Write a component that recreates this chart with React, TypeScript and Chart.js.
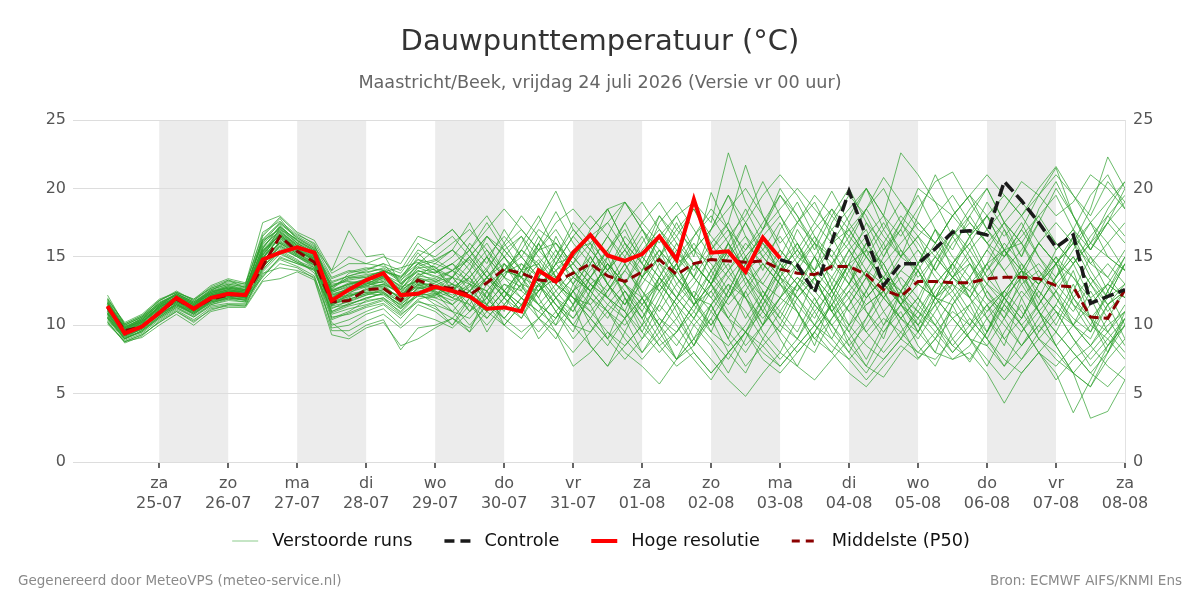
import React, { useEffect, useRef } from 'react';
import { Chart, registerables } from 'chart.js';

Chart.register(...registerables);

const FONT = '"DejaVu Sans", sans-serif';

// forecast hours after 24-07 00:00 (6-hourly steps)
const hours = Array.from({ length: 60 }, (_, i) => 6 + 6 * i);

const dayNames = ['za', 'zo', 'ma', 'di', 'wo', 'do', 'vr', 'za', 'zo', 'ma', 'di', 'wo', 'do', 'vr', 'za'];
const dayDates = ['25-07', '26-07', '27-07', '28-07', '29-07', '30-07', '31-07', '01-08', '02-08', '03-08', '04-08', '05-08', '06-08', '07-08', '08-08'];
const shadedStarts = [24, 72, 120, 168, 216, 264, 312];

const hoogResolutie = [11.4, 9.4, 9.9, 10.9, 12.0, 11.2, 12.0, 12.3, 12.2, 14.8, 15.3, 15.7, 15.3, 11.8, 12.6, 13.3, 13.8, 12.2, 12.3, 12.8, 12.5, 12.1, 11.2, 11.3, 11.0, 14.0, 13.2, 15.3, 16.6, 15.1, 14.7, 15.2, 16.5, 14.8, 19.2, 15.3, 15.4, 13.9, 16.4, 14.9];

const middelste = [11.3, 9.6, 9.9, 10.9, 11.9, 11.2, 11.9, 12.2, 12.2, 14.3, 16.5, 15.4, 14.6, 11.7, 11.8, 12.6, 12.7, 11.8, 13.3, 12.8, 12.7, 12.2, 13.1, 14.1, 13.8, 13.3, 13.2, 13.8, 14.5, 13.6, 13.2, 13.9, 14.8, 13.7, 14.5, 14.8, 14.7, 14.6, 14.7, 14.1, 13.8, 13.7, 14.3, 14.3, 13.7, 12.6, 12.1, 13.2, 13.2, 13.1, 13.1, 13.4, 13.5, 13.5, 13.4, 12.9, 12.8, 10.6, 10.5, 12.6];

const controle = [null, null, null, null, null, null, null, null, null, null, null, null, null, null, null, null, null, null, null, null, null, null, null, null, null, null, null, null, null, null, null, null, null, null, null, null, null, null, null, 14.8, 14.4, 12.4, 16.1, 19.8, 16.4, 12.9, 14.5, 14.5, 15.6, 16.8, 16.9, 16.6, 20.5, 19.1, 17.5, 15.7, 16.6, 11.6, 12.1, 12.6];

const verstoordeRuns: number[][] = [
  [11.2, 9.4, 9.9, 11.0, 11.9, 11.1, 12.1, 12.4, 12.2, 15.2, 16.8, 15.9, 15.0, 11.5, 12.0, 12.7, 13.0, 11.8, 13.5, 13.0, 12.5, 12.0, 13.5, 14.5, 13.0, 12.5, 14.0, 15.0, 16.5, 14.0, 12.5, 11.0, 13.5, 15.5, 14.0, 16.0, 17.5, 15.0, 13.0, 12.0, 14.5, 16.0, 13.0, 11.0, 12.5, 15.0, 17.0, 14.5, 12.0, 10.5, 11.5, 13.0, 15.5, 16.0, 13.5, 12.0, 10.0, 9.0, 11.5, 13.0],
  [10.8, 9.2, 10.1, 11.4, 12.1, 11.5, 12.3, 12.8, 12.5, 14.6, 16.0, 15.2, 14.5, 12.0, 12.8, 13.1, 13.4, 12.6, 14.0, 13.5, 14.0, 13.2, 12.5, 14.0, 15.5, 14.2, 13.0, 12.0, 11.5, 13.0, 15.0, 17.0, 14.5, 12.5, 11.0, 13.5, 16.0, 18.5, 16.0, 14.0, 12.0, 10.5, 13.0, 15.5, 17.0, 14.0, 11.5, 10.0, 12.5, 14.0, 16.5, 18.0, 15.5, 13.0, 11.0, 12.5, 14.5, 12.0, 9.5, 11.0],
  [11.5, 9.8, 10.3, 11.2, 11.6, 10.8, 11.8, 12.0, 11.9, 14.8, 17.2, 16.0, 15.3, 10.5, 11.0, 11.8, 12.0, 10.9, 12.2, 11.8, 11.0, 10.5, 12.0, 13.5, 12.8, 11.5, 10.5, 12.5, 14.0, 15.5, 13.0, 11.5, 10.0, 12.0, 14.5, 13.0, 11.0, 9.5, 12.0, 14.0, 15.5, 13.5, 11.0, 9.0, 10.5, 13.0, 15.0, 16.5, 14.0, 12.5, 10.5, 9.0, 11.5, 14.0, 16.0, 14.5, 12.0, 10.0, 12.5, 14.5],
  [10.5, 9.0, 9.6, 10.5, 11.3, 10.7, 11.5, 11.8, 11.7, 15.5, 16.5, 15.5, 14.8, 12.5, 13.0, 13.4, 13.8, 12.8, 14.5, 14.8, 15.5, 14.0, 16.5, 15.0, 13.5, 15.5, 16.0, 14.5, 17.0, 18.5, 16.0, 14.5, 17.5, 19.0, 17.0, 15.0, 16.5, 18.0, 20.5, 18.0, 16.0, 14.0, 17.5, 19.5, 18.0, 15.5, 17.0, 20.0, 19.0, 16.5, 18.5, 20.0, 17.5, 16.0, 18.0, 19.5, 17.0, 15.5, 18.0, 19.5],
  [11.8, 9.7, 10.4, 11.6, 12.2, 11.6, 12.6, 13.0, 12.8, 16.0, 17.5, 16.5, 15.8, 13.5, 14.0, 13.8, 14.2, 13.5, 14.8, 14.2, 13.5, 12.0, 11.0, 12.5, 14.0, 13.0, 11.5, 10.0, 9.5, 11.0, 12.5, 10.5, 8.5, 9.5, 11.5, 13.0, 10.5, 8.5, 10.0, 12.0, 11.0, 9.0, 10.5, 12.5, 11.0, 9.5, 11.5, 13.0, 12.0, 10.5, 9.0, 8.5, 10.5, 12.5, 11.0, 9.5, 8.0, 6.5, 8.0, 10.0],
  [11.0, 9.6, 10.0, 10.8, 11.5, 11.0, 11.9, 12.2, 12.0, 13.5, 15.0, 14.5, 14.0, 11.0, 11.5, 12.0, 12.3, 11.5, 12.6, 12.2, 12.8, 13.5, 12.0, 13.8, 14.5, 13.5, 15.0, 13.5, 12.5, 14.5, 13.0, 12.0, 14.5, 13.5, 12.0, 14.0, 15.5, 14.0, 15.0, 13.5, 12.5, 14.0, 15.5, 13.5, 12.0, 13.5, 12.0, 11.0, 13.0, 14.5, 13.0, 11.5, 12.5, 14.0, 13.0, 14.5, 13.5, 12.0, 13.0, 12.0],
  [12.2, 10.0, 10.6, 11.8, 12.5, 11.8, 12.8, 13.3, 13.0, 17.5, 18.0, 16.8, 16.2, 14.0, 16.9, 15.0, 15.2, 13.0, 14.5, 13.8, 14.5, 15.5, 13.5, 12.0, 13.5, 14.8, 13.0, 11.5, 13.5, 15.5, 17.0, 14.5, 12.5, 14.0, 16.5, 18.0, 16.0, 14.0, 13.0, 15.0, 17.5, 19.0, 16.5, 14.0, 12.0, 13.5, 15.5, 14.0, 16.0, 18.0, 16.5, 14.0, 15.5, 17.5, 15.0, 13.0, 14.5, 16.0, 15.0, 14.0],
  [10.2, 8.8, 9.3, 10.2, 11.0, 10.2, 11.2, 11.4, 11.4, 14.2, 15.8, 15.0, 14.3, 9.8, 10.0, 10.8, 11.2, 10.0, 11.5, 11.0, 10.0, 11.5, 10.5, 12.0, 11.0, 12.5, 13.5, 12.0, 10.5, 9.0, 10.5, 12.0, 9.5, 7.5, 9.0, 11.5, 9.0, 7.0, 8.5, 10.0, 9.0, 8.0, 10.5, 12.0, 9.5, 8.0, 9.5, 11.0, 10.0, 8.5, 10.0, 11.5, 9.0, 7.5, 9.5, 11.0, 9.0, 7.0, 8.5, 10.5],
  [11.4, 9.5, 10.2, 11.3, 12.0, 11.3, 12.2, 12.6, 12.4, 15.4, 16.6, 15.6, 14.6, 12.2, 12.5, 12.9, 13.2, 12.4, 13.2, 12.8, 12.0, 12.8, 14.2, 15.8, 17.0, 15.5, 14.0, 15.5, 16.0, 14.5, 13.0, 15.5, 17.0, 15.5, 13.5, 12.0, 14.0, 16.0, 14.5, 13.0, 14.5, 13.0, 11.5, 14.0, 16.0, 14.0, 12.5, 14.5, 17.0, 15.0, 13.5, 15.5, 17.5, 16.0, 14.0, 12.5, 11.0, 13.0, 14.5, 13.0],
  [10.9, 9.3, 9.7, 10.9, 11.8, 11.4, 12.0, 12.1, 12.3, 16.5, 17.8, 16.2, 15.5, 12.8, 13.5, 13.5, 14.0, 13.2, 15.0, 16.0, 17.0, 15.5, 14.0, 16.0, 18.0, 16.5, 14.5, 13.0, 14.5, 16.5, 19.0, 17.0, 15.0, 16.5, 18.5, 16.0, 14.0, 15.5, 17.0, 19.5, 18.0, 16.0, 14.5, 16.0, 18.5, 20.0, 17.5, 15.5, 14.0, 16.5, 18.0, 16.0, 15.0, 17.0, 19.5, 21.5, 18.0, 15.5, 17.5, 19.0],
  [11.6, 9.9, 10.5, 11.5, 12.3, 11.7, 12.4, 12.9, 12.6, 15.0, 16.0, 15.3, 14.9, 13.0, 13.2, 13.0, 13.6, 12.0, 13.8, 13.2, 12.5, 11.0, 13.0, 11.5, 10.5, 12.5, 14.5, 16.5, 15.0, 13.0, 11.5, 13.0, 15.0, 13.5, 11.5, 10.0, 12.0, 14.5, 12.5, 11.0, 13.0, 15.0, 13.5, 12.0, 14.0, 12.0, 10.5, 12.0, 14.5, 16.5, 14.5, 12.5, 11.0, 9.5, 11.5, 13.5, 15.0, 13.0, 11.5, 12.5],
  [10.6, 9.1, 9.5, 10.6, 11.4, 10.9, 11.6, 12.0, 11.9, 14.0, 15.5, 14.8, 13.8, 11.2, 11.8, 12.2, 12.5, 11.2, 12.8, 12.4, 11.5, 10.0, 11.5, 13.0, 12.0, 10.5, 12.0, 13.5, 12.5, 11.0, 9.5, 8.0, 10.0, 12.0, 10.5, 9.0, 7.5, 9.5, 11.0, 9.5, 8.0, 9.5, 11.5, 10.0, 8.5, 7.5, 9.0, 10.5, 9.0, 7.5, 8.5, 10.5, 12.0, 10.0, 8.0, 7.0, 8.5, 10.0, 9.0, 7.5],
  [11.9, 10.2, 10.8, 11.9, 12.4, 11.9, 12.9, 13.4, 13.1, 16.2, 17.0, 16.3, 15.6, 12.6, 13.8, 14.1, 14.5, 14.0, 16.0, 14.8, 14.0, 15.0, 16.5, 15.0, 13.5, 16.0, 18.3, 16.0, 14.5, 16.5, 15.0, 13.5, 15.0, 17.0, 18.5, 16.5, 15.0, 17.5, 19.5, 21.0, 19.5, 17.5, 16.0, 18.0, 20.0, 18.0, 16.5, 18.5, 20.5, 21.2, 19.0, 17.0, 18.5, 20.5, 19.5, 18.0, 19.0, 21.0, 20.0, 18.5],
  [10.4, 8.9, 9.4, 10.4, 11.2, 10.6, 11.4, 11.6, 11.6, 13.8, 14.2, 14.0, 13.5, 10.2, 9.2, 10.0, 10.4, 8.2, 9.8, 10.0, 10.5, 12.0, 11.0, 10.0, 11.5, 13.0, 11.5, 10.5, 12.0, 11.0, 9.0, 7.5, 9.0, 10.5, 12.5, 11.0, 9.5, 8.0, 10.0, 12.0, 13.5, 12.0, 10.0, 8.5, 10.0, 12.0, 13.5, 12.0, 10.0, 8.0, 9.5, 11.0, 12.5, 11.0, 9.0, 7.5, 6.5, 8.0, 9.5, 8.0],
  [11.3, 9.6, 10.3, 11.1, 11.9, 11.4, 12.2, 12.5, 12.3, 15.8, 16.9, 15.8, 15.2, 11.8, 12.3, 12.5, 12.8, 12.0, 13.5, 14.5, 15.5, 14.5, 13.0, 14.0, 15.0, 17.0, 16.0, 14.5, 13.0, 12.0, 14.0, 16.0, 18.0, 16.5, 14.5, 13.0, 15.0, 16.5, 15.0, 13.5, 15.0, 17.0, 18.5, 16.0, 14.0, 16.0, 18.0, 16.5, 15.0, 13.5, 15.5, 17.0, 15.5, 14.0, 16.0, 17.5, 16.0, 14.5, 16.0, 17.5],
  [11.1, 9.4, 10.0, 11.0, 11.7, 11.2, 12.0, 12.3, 12.1, 14.4, 16.2, 15.4, 14.7, 12.4, 12.9, 13.3, 13.6, 12.8, 13.2, 12.6, 13.5, 13.0, 12.5, 14.0, 13.5, 12.8, 14.5, 15.0, 13.5, 12.5, 14.0, 12.5, 11.0, 13.0, 14.5, 13.0, 11.5, 13.0, 14.5, 13.0, 12.0, 13.5, 14.5, 13.0, 11.5, 12.5, 14.0, 13.0, 12.0, 13.5, 14.5, 13.0, 12.0, 13.5, 14.5, 13.0, 11.5, 10.5, 12.0, 13.0],
  [10.7, 9.0, 9.8, 10.7, 11.6, 11.0, 11.7, 12.0, 12.0, 14.9, 16.4, 15.1, 14.4, 11.4, 11.7, 12.2, 12.6, 11.6, 12.7, 12.9, 12.0, 13.5, 15.0, 13.5, 12.0, 11.0, 12.5, 14.0, 12.5, 11.0, 10.0, 11.5, 13.5, 12.0, 10.5, 12.5, 14.0, 12.0, 10.0, 11.5, 13.0, 11.5, 10.0, 11.5, 13.5, 12.0, 10.5, 9.0, 11.0, 13.0, 12.0, 10.5, 9.0, 10.5, 12.5, 11.0, 9.0, 7.5, 9.0, 10.5],
  [11.7, 9.8, 10.5, 11.7, 12.2, 11.6, 12.5, 12.7, 12.6, 15.6, 17.3, 16.1, 15.4, 13.2, 13.6, 14.0, 14.5, 13.0, 14.0, 13.6, 13.0, 12.5, 14.0, 12.5, 11.5, 13.5, 15.5, 14.0, 12.5, 14.0, 16.0, 14.5, 13.0, 11.5, 13.0, 15.0, 13.5, 12.0, 13.5, 15.5, 14.0, 12.5, 14.5, 16.5, 15.0, 13.0, 11.5, 13.0, 15.0, 13.5, 12.0, 14.0, 16.0, 14.5, 13.0, 14.5, 16.5, 15.0, 13.5, 12.0],
  [10.3, 8.7, 9.2, 10.3, 11.1, 10.4, 11.3, 11.5, 11.5, 13.6, 14.8, 14.3, 13.6, 10.0, 10.4, 11.0, 11.5, 10.5, 11.8, 11.2, 10.5, 9.5, 11.0, 12.5, 11.0, 9.5, 11.0, 12.5, 11.0, 9.5, 8.5, 10.0, 11.5, 10.0, 8.0, 6.5, 8.0, 9.5, 8.5, 7.0, 8.5, 10.0, 9.0, 7.5, 6.0, 7.5, 9.0, 8.0, 7.5, 9.0, 10.5, 9.0, 7.5, 6.5, 8.0, 9.5, 8.0, 6.5, 5.5, 7.0],
  [12.0, 10.1, 10.7, 11.8, 12.4, 11.8, 12.7, 13.1, 12.9, 16.8, 17.6, 16.6, 16.0, 13.8, 14.5, 14.5, 14.3, 13.8, 15.5, 15.0, 16.0, 17.0, 15.5, 14.0, 15.5, 17.5, 19.8, 17.0, 15.5, 14.0, 15.5, 17.5, 19.0, 17.0, 15.5, 17.0, 18.5, 20.0, 18.0, 16.0, 17.5, 19.5, 18.0, 16.5, 18.5, 20.8, 19.0, 17.0, 16.0, 18.0, 19.5, 18.0, 16.5, 18.0, 20.0, 21.6, 19.5, 17.5, 19.0, 20.5],
  [11.0, 9.5, 9.9, 10.9, 11.8, 11.3, 12.0, 12.2, 12.1, 15.1, 16.7, 15.7, 14.9, 12.0, 12.4, 12.8, 13.0, 12.3, 12.9, 12.5, 12.0, 11.5, 13.5, 12.0, 14.0, 14.5, 12.5, 11.0, 13.5, 15.0, 12.0, 10.5, 13.0, 14.5, 12.0, 11.5, 13.5, 15.0, 16.5, 13.5, 12.0, 10.0, 12.5, 14.5, 12.5, 10.0, 11.5, 14.0, 12.0, 11.5, 13.0, 14.5, 12.0, 10.5, 13.0, 15.0, 12.0, 10.5, 9.5, 11.5],
  [10.6, 9.2, 9.7, 10.8, 11.5, 10.9, 11.8, 12.2, 12.2, 14.5, 15.7, 15.0, 14.2, 10.8, 11.2, 11.5, 11.9, 11.0, 12.4, 11.5, 11.0, 12.5, 11.5, 10.5, 12.0, 11.0, 10.0, 11.5, 13.0, 12.0, 11.0, 9.5, 8.0, 9.5, 11.0, 9.5, 8.5, 10.0, 12.0, 10.5, 9.0, 11.0, 12.5, 11.0, 9.5, 11.0, 12.5, 11.0, 9.5, 8.0, 9.5, 11.5, 10.0, 8.5, 10.0, 11.5, 10.0, 8.5, 10.0, 11.0],
  [11.5, 9.7, 10.4, 11.5, 12.0, 11.5, 12.3, 12.7, 12.5, 15.3, 17.0, 16.0, 15.1, 12.3, 12.6, 13.0, 13.3, 12.5, 13.4, 13.3, 14.0, 14.8, 13.0, 15.5, 16.5, 14.0, 13.5, 15.0, 16.5, 17.5, 15.5, 14.0, 16.5, 18.0, 15.5, 14.5, 12.5, 15.0, 16.5, 18.0, 15.5, 14.0, 12.5, 15.0, 16.5, 18.0, 15.0, 14.0, 12.0, 14.5, 16.5, 18.0, 15.5, 14.0, 13.0, 15.5, 17.0, 14.5, 13.5, 15.5],
  [10.9, 9.3, 10.0, 11.1, 11.8, 11.1, 12.1, 12.4, 12.3, 14.7, 16.1, 15.3, 14.6, 11.7, 12.1, 12.6, 12.9, 11.9, 13.0, 12.6, 13.0, 12.2, 11.5, 13.0, 12.5, 11.5, 13.0, 12.0, 10.5, 9.0, 7.5, 9.0, 10.5, 9.0, 7.5, 6.0, 8.0, 9.5, 8.0, 7.0, 8.5, 10.0, 8.5, 7.5, 9.0, 10.5, 9.5, 8.0, 9.5, 11.0, 10.0, 8.5, 7.0, 8.5, 10.0, 8.5, 6.5, 5.5, 7.5, 9.0],
  [11.2, 9.5, 10.1, 11.2, 12.0, 11.2, 12.1, 12.5, 12.4, 15.7, 16.9, 15.9, 15.1, 12.1, 12.6, 12.9, 13.2, 12.2, 13.1, 12.7, 12.2, 13.0, 15.0, 12.5, 14.0, 16.0, 13.5, 12.5, 15.0, 13.0, 11.5, 14.0, 15.5, 13.0, 11.5, 13.0, 16.0, 14.0, 12.0, 14.5, 16.0, 13.5, 12.0, 14.5, 15.5, 13.0, 12.0, 10.5, 13.0, 14.5, 16.0, 13.5, 12.0, 10.5, 13.0, 14.5, 16.0, 13.5, 12.0, 14.5],
  [11.6, 9.9, 10.4, 11.3, 12.1, 11.5, 12.5, 13.3, 12.7, 16.2, 17.4, 16.4, 15.7, 14.0, 15.0, 14.5, 15.0, 14.5, 16.5, 16.0, 17.0, 15.5, 17.0, 18.5, 17.0, 15.5, 17.5, 18.5, 17.0, 18.5, 19.0, 17.5, 16.0, 18.0, 19.0, 17.5, 22.6, 19.0, 17.0, 18.5, 20.0, 18.5, 17.0, 18.5, 20.0, 18.0, 22.6, 21.0, 19.0, 18.0, 19.5, 21.0, 19.5, 18.0, 19.5, 21.0, 19.5, 18.0, 20.5, 19.0],
  [10.1, 8.8, 9.1, 10.0, 10.8, 10.0, 11.0, 11.3, 11.3, 13.2, 13.4, 13.9, 13.3, 9.3, 9.0, 9.8, 10.2, 8.5, 9.0, 9.8, 10.5, 9.8, 11.5, 10.0, 9.0, 10.5, 9.5, 7.0, 8.0, 9.5, 8.0, 7.0, 5.7, 7.5, 9.0, 7.5, 6.0, 4.8, 6.5, 8.0, 7.0, 6.0, 7.5, 9.0, 7.0, 6.2, 8.0, 9.5, 8.0, 7.5, 8.0, 6.5, 4.3, 6.5, 8.0, 6.0, 7.5, 8.5, 7.0, 6.0],
  [11.3, 9.6, 10.2, 11.4, 12.3, 11.6, 12.3, 12.6, 12.5, 14.3, 15.4, 14.7, 14.2, 12.7, 13.4, 13.6, 13.9, 14.2, 14.6, 14.0, 13.0, 14.5, 16.0, 14.0, 13.5, 11.5, 10.5, 12.5, 13.5, 12.0, 11.0, 9.0, 11.5, 14.0, 12.0, 10.0, 12.0, 13.5, 11.0, 9.5, 12.0, 13.5, 11.0, 9.5, 12.0, 13.5, 11.5, 9.5, 12.0, 13.0, 11.0, 9.5, 12.0, 13.5, 11.0, 9.5, 12.0, 13.5, 11.5, 9.0],
  [10.8, 9.1, 9.8, 10.9, 11.7, 11.0, 11.9, 12.3, 12.0, 15.0, 16.3, 15.5, 14.8, 11.0, 11.6, 11.9, 12.4, 11.4, 12.1, 12.0, 11.5, 12.5, 10.5, 12.0, 14.5, 13.0, 11.0, 9.0, 10.5, 12.5, 14.5, 12.0, 10.0, 8.5, 10.5, 13.0, 14.5, 12.0, 9.5, 8.0, 10.5, 13.5, 12.0, 9.5, 7.5, 10.0, 12.5, 14.0, 11.5, 9.0, 7.3, 9.5, 12.5, 14.0, 11.0, 8.5, 10.0, 12.5, 10.5, 8.5],
  [11.4, 9.7, 10.3, 11.4, 11.9, 11.4, 12.4, 12.8, 12.6, 16.1, 17.1, 16.0, 15.3, 12.6, 13.0, 13.2, 13.7, 13.1, 13.9, 14.1, 15.0, 16.5, 18.0, 16.0, 14.0, 12.5, 14.5, 16.5, 18.0, 16.5, 14.5, 16.5, 14.0, 12.0, 13.5, 15.5, 17.5, 21.7, 18.0, 15.5, 14.0, 16.0, 18.5, 17.0, 15.0, 17.0, 19.0, 17.5, 16.0, 18.0, 19.5, 17.0, 15.0, 16.5, 18.0, 16.0, 14.5, 16.5, 18.0, 16.5],
  [10.5, 9.0, 9.6, 10.6, 11.4, 10.8, 11.7, 12.1, 11.8, 13.9, 15.2, 14.6, 14.1, 10.6, 10.8, 11.3, 11.6, 10.7, 11.9, 12.2, 12.8, 11.5, 10.0, 11.5, 13.0, 11.5, 9.5, 8.0, 9.5, 11.5, 13.0, 11.0, 9.0, 7.5, 8.5, 10.5, 12.5, 11.0, 9.0, 7.5, 9.0, 11.5, 10.0, 8.0, 6.5, 8.5, 10.5, 12.0, 10.5, 8.5, 7.5, 9.5, 11.5, 10.0, 8.0, 6.5, 3.6, 6.0, 8.5, 10.0],
  [11.7, 10.0, 10.6, 11.6, 12.3, 11.7, 12.6, 13.0, 12.8, 15.9, 17.2, 16.2, 15.5, 13.4, 13.9, 14.2, 14.0, 13.4, 15.3, 14.0, 13.5, 15.0, 16.5, 15.5, 14.0, 15.5, 17.0, 15.0, 13.5, 15.5, 17.5, 19.0, 17.0, 15.0, 16.5, 18.5, 17.0, 15.5, 17.5, 19.5, 17.5, 16.0, 15.0, 17.0, 18.5, 16.5, 15.0, 16.5, 18.0, 19.5, 17.5, 16.0, 17.5, 19.0, 17.5, 15.5, 17.0, 19.5, 21.0, 18.5],
  [11.0, 9.4, 9.9, 11.0, 11.7, 11.1, 12.0, 12.2, 12.2, 14.6, 16.1, 15.4, 14.9, 11.9, 12.2, 12.4, 12.7, 12.1, 12.8, 12.3, 11.8, 12.5, 13.5, 12.5, 11.5, 12.5, 13.5, 14.5, 13.0, 11.5, 10.5, 12.0, 13.0, 11.5, 10.0, 11.5, 13.0, 12.0, 10.5, 12.0, 13.5, 12.5, 11.0, 12.5, 14.0, 13.0, 11.5, 10.5, 12.0, 13.5, 12.5, 11.0, 12.5, 14.0, 12.5, 11.0, 10.0, 11.5, 13.0, 12.0],
  [10.2, 8.8, 9.3, 10.2, 11.0, 10.3, 11.1, 11.5, 11.4, 13.3, 14.5, 14.2, 13.4, 9.6, 9.6, 10.3, 10.8, 9.8, 10.8, 10.4, 9.8, 11.0, 12.0, 10.5, 9.5, 10.5, 12.0, 10.0, 8.5, 7.0, 8.5, 10.0, 8.5, 7.0, 8.0, 6.5, 8.0, 9.5, 7.5, 6.5, 8.0, 9.5, 8.0, 6.5, 5.5, 7.0, 8.5, 7.5, 9.0, 10.5, 9.0, 7.5, 6.0, 7.5, 9.0, 8.0, 6.5, 3.2, 3.7, 6.0],
  [11.6, 9.8, 10.4, 11.5, 12.2, 11.5, 12.4, 12.7, 12.5, 15.1, 16.7, 15.8, 15.2, 12.9, 13.3, 13.5, 14.0, 13.5, 14.5, 15.5, 16.5, 15.0, 13.5, 15.0, 16.5, 15.0, 13.5, 14.5, 16.0, 17.5, 19.0, 17.0, 15.5, 14.0, 15.5, 17.0, 19.5, 17.5, 15.5, 14.0, 15.5, 17.5, 19.8, 17.5, 15.5, 14.5, 16.0, 17.5, 16.0, 14.5, 16.0, 18.0, 19.5, 18.0, 16.0, 14.5, 16.0, 18.5, 22.3, 20.0],
  [11.1, 9.5, 10.0, 11.1, 11.8, 11.2, 12.0, 12.4, 12.2, 14.2, 15.6, 15.0, 14.4, 11.3, 11.5, 12.0, 12.3, 11.5, 12.5, 12.0, 12.5, 14.0, 12.0, 10.5, 12.0, 13.5, 12.0, 10.5, 12.5, 14.5, 13.0, 11.5, 13.0, 15.0, 13.5, 12.0, 10.5, 12.5, 14.5, 13.0, 11.5, 10.0, 11.5, 13.0, 15.0, 13.5, 11.5, 10.0, 11.5, 13.5, 15.0, 13.0, 11.5, 10.0, 11.5, 13.5, 15.0, 13.0, 11.0, 12.5],
  [11.9, 10.1, 10.7, 11.8, 12.4, 11.9, 12.7, 13.2, 13.0, 16.6, 17.9, 16.7, 15.9, 12.5, 13.1, 13.3, 13.5, 12.6, 14.2, 13.8, 14.5, 13.5, 15.0, 16.5, 15.0, 13.5, 12.0, 13.5, 15.0, 13.0, 11.5, 13.5, 15.5, 14.0, 16.0, 14.0, 12.0, 14.0, 16.0, 14.5, 13.0, 15.0, 17.0, 15.5, 13.5, 15.5, 17.5, 16.0, 14.0, 16.0, 17.5, 16.0, 14.0, 15.5, 17.5, 16.0, 14.5, 16.0, 17.5, 16.0],
  [10.7, 9.2, 9.7, 10.6, 11.5, 10.9, 11.7, 11.9, 11.9, 14.1, 15.3, 14.6, 14.0, 11.6, 11.9, 12.3, 12.2, 11.3, 12.3, 12.1, 13.5, 15.0, 13.5, 12.5, 11.0, 13.0, 14.0, 12.0, 11.0, 12.5, 14.5, 12.5, 10.5, 9.5, 11.5, 12.5, 10.5, 9.5, 11.5, 13.0, 11.0, 9.0, 8.0, 10.0, 11.5, 12.5, 10.5, 9.5, 11.5, 12.5, 14.5, 12.0, 11.0, 13.0, 14.0, 12.0, 10.5, 9.5, 11.5, 12.5],
  [11.3, 9.7, 10.2, 11.3, 12.0, 11.3, 12.2, 12.5, 12.4, 15.3, 16.6, 15.6, 14.7, 11.6, 12.1, 12.6, 13.0, 12.4, 13.6, 13.4, 12.5, 14.0, 15.5, 13.5, 15.5, 14.5, 12.0, 11.0, 13.0, 14.0, 15.5, 13.5, 12.5, 14.5, 15.5, 13.5, 12.0, 14.5, 15.5, 17.5, 15.0, 14.0, 16.0, 17.0, 15.0, 13.5, 12.5, 14.5, 15.5, 13.5, 12.5, 14.5, 15.5, 13.5, 12.0, 14.5, 16.0, 17.5, 15.0, 14.0],
  [10.9, 9.2, 9.9, 11.1, 11.9, 11.0, 11.9, 12.3, 12.3, 14.8, 16.5, 15.6, 14.9, 12.2, 12.7, 12.8, 13.5, 12.7, 13.7, 13.9, 14.5, 13.0, 12.0, 14.5, 13.5, 12.0, 15.0, 17.5, 16.0, 13.0, 11.0, 14.0, 16.5, 13.5, 12.0, 15.5, 17.0, 13.5, 11.5, 14.0, 17.0, 15.0, 12.5, 14.5, 17.5, 16.0, 13.0, 11.5, 14.5, 17.0, 15.0, 12.0, 10.5, 13.5, 16.0, 14.5, 11.5, 9.5, 12.5, 15.0],
  [11.5, 9.9, 10.2, 11.3, 11.9, 11.4, 12.2, 12.4, 12.2, 14.9, 16.5, 15.5, 15.0, 11.4, 12.3, 13.1, 12.8, 11.9, 13.0, 12.4, 11.0, 9.5, 12.5, 11.0, 14.0, 12.0, 10.0, 13.0, 11.5, 9.0, 12.0, 10.0, 13.5, 11.0, 8.5, 11.5, 9.0, 12.5, 10.0, 13.5, 11.0, 8.5, 12.0, 14.5, 11.0, 9.0, 12.5, 10.0, 8.0, 11.5, 13.5, 10.5, 8.5, 12.0, 9.5, 11.5, 14.0, 10.5, 8.0, 11.0],
  [11.2, 9.6, 10.1, 11.2, 11.9, 11.3, 12.1, 12.5, 12.3, 15.5, 16.8, 15.8, 15.1, 12.4, 12.8, 13.2, 13.1, 12.3, 13.1, 12.9, 13.5, 16.0, 14.5, 17.0, 15.0, 13.5, 16.5, 14.0, 12.0, 15.0, 17.5, 15.0, 18.0, 16.0, 13.5, 17.0, 19.5, 16.5, 14.0, 17.0, 19.0, 16.5, 14.0, 17.5, 20.0, 17.0, 15.0, 18.0, 21.0, 18.5, 16.5, 19.0, 17.0, 15.0, 18.5, 20.5, 18.0, 15.5, 17.5, 20.0],
  [10.6, 9.0, 9.6, 10.7, 11.5, 10.8, 11.6, 12.0, 11.8, 14.4, 15.9, 15.1, 14.5, 10.9, 11.4, 11.7, 12.0, 11.2, 12.2, 12.3, 13.0, 11.0, 12.5, 10.0, 11.5, 9.0, 10.5, 12.5, 10.0, 8.5, 10.5, 8.0, 9.5, 11.5, 9.0, 10.5, 8.0, 6.5, 9.0, 11.0, 9.5, 12.0, 9.5, 8.0, 10.5, 12.5, 10.0, 7.6, 9.0, 11.5, 9.0, 7.0, 9.5, 11.5, 9.0, 10.5, 13.0, 10.5, 8.5, 10.0],
  [11.8, 10.0, 10.6, 11.6, 12.3, 11.7, 12.5, 12.9, 12.7, 15.6, 17.2, 16.2, 15.4, 13.1, 13.6, 13.9, 14.1, 13.3, 14.3, 14.7, 15.5, 17.5, 15.0, 13.5, 16.0, 18.0, 15.5, 13.0, 15.5, 18.5, 16.0, 13.5, 15.0, 17.5, 15.0, 19.7, 17.0, 14.5, 17.0, 20.0, 18.0, 15.5, 18.0, 20.0, 17.5, 15.0, 17.5, 19.5, 17.0, 15.5, 18.0, 20.0, 17.5, 15.0, 17.5, 20.0, 18.0, 16.0, 18.5, 20.5],
  [10.5, 9.0, 9.5, 10.5, 11.3, 10.6, 11.5, 11.9, 11.7, 13.7, 14.9, 14.5, 14.1, 10.4, 10.9, 11.4, 11.8, 10.8, 11.7, 11.4, 10.0, 12.0, 9.5, 11.5, 13.0, 10.5, 9.0, 11.5, 8.5, 7.0, 9.5, 12.0, 10.0, 7.5, 10.0, 8.5, 6.5, 9.0, 11.5, 9.0, 7.0, 9.5, 11.5, 8.5, 7.0, 9.5, 11.0, 8.5, 7.0, 9.5, 11.5, 9.0, 7.0, 9.5, 11.0, 8.5, 6.5, 5.5, 8.0, 10.5],
  [11.4, 9.7, 10.3, 11.4, 12.1, 11.5, 12.3, 12.6, 12.4, 15.2, 16.4, 15.5, 14.8, 12.0, 12.6, 13.0, 13.6, 12.9, 14.2, 14.3, 12.5, 13.5, 11.5, 14.5, 12.5, 16.0, 13.5, 11.5, 14.5, 12.0, 10.5, 13.5, 16.5, 14.5, 11.5, 14.0, 16.0, 13.0, 11.0, 13.5, 16.0, 13.5, 11.0, 13.0, 16.0, 14.5, 12.0, 14.5, 17.0, 14.0, 12.0, 14.5, 17.0, 14.0, 11.5, 13.5, 16.5, 14.0, 12.0, 14.5],
  [10.8, 9.3, 9.8, 10.8, 11.6, 11.0, 11.8, 12.1, 12.0, 14.7, 16.0, 15.2, 14.6, 11.5, 11.9, 12.3, 12.6, 11.8, 12.9, 13.1, 14.0, 12.5, 14.0, 12.0, 10.5, 13.0, 11.0, 9.5, 12.5, 14.5, 12.0, 9.5, 12.0, 14.5, 12.0, 9.5, 12.5, 15.0, 12.0, 10.0, 12.5, 15.0, 12.5, 10.0, 12.5, 14.5, 12.0, 9.5, 12.0, 14.5, 12.0, 9.5, 12.0, 14.5, 12.0, 10.0, 12.5, 15.0, 12.5, 10.0],
  [11.6, 9.8, 10.5, 11.5, 12.2, 11.6, 12.4, 12.8, 12.6, 16.3, 17.5, 16.4, 15.6, 12.8, 13.5, 13.7, 13.9, 13.6, 14.8, 14.5, 14.0, 15.5, 17.5, 15.5, 14.0, 16.5, 15.0, 17.0, 15.5, 14.0, 16.5, 15.0, 13.5, 16.0, 14.5, 13.0, 15.5, 17.5, 15.0, 16.5, 14.5, 16.5, 15.0, 13.0, 15.5, 17.5, 15.5, 13.5, 15.0, 17.0, 15.5, 13.5, 15.0, 17.0, 15.0, 13.5, 15.5, 17.5, 16.0, 14.0],
  [10.9, 9.4, 10.0, 11.0, 11.7, 11.1, 11.9, 12.2, 12.1, 14.5, 15.8, 15.1, 14.4, 11.7, 12.2, 12.4, 12.4, 11.7, 12.7, 12.5, 11.5, 13.0, 11.0, 12.5, 11.0, 13.5, 11.5, 10.0, 12.0, 10.5, 12.5, 10.5, 12.5, 10.5, 8.5, 11.0, 13.0, 10.5, 12.5, 10.5, 13.0, 11.0, 9.0, 11.5, 13.5, 11.0, 9.0, 11.5, 10.0, 12.0, 10.0, 12.5, 10.5, 8.5, 10.5, 12.5, 10.0, 8.5, 10.5, 12.5],
  [11.3, 9.5, 10.2, 11.3, 12.0, 11.4, 12.2, 12.6, 12.4, 15.4, 16.6, 15.7, 15.0, 12.5, 13.0, 13.3, 13.4, 12.6, 13.3, 13.2, 13.5, 12.0, 13.5, 15.0, 13.0, 14.5, 16.0, 14.0, 12.5, 14.5, 13.0, 15.0, 13.5, 12.0, 14.5, 13.0, 15.5, 13.5, 12.0, 14.5, 13.0, 11.5, 13.5, 15.5, 13.5, 12.0, 14.0, 15.5, 13.5, 12.0, 13.5, 15.5, 14.0, 12.0, 13.5, 15.0, 13.5, 11.5, 13.0, 15.0],
];

const ENS_COLOR = 'rgba(44, 160, 44, 0.7)';
const HR_COLOR = '#ff0000';
const CTRL_COLOR = '#1a1a1a';
const P50_COLOR = '#8b0000';

const legendItems = [
  { text: 'Verstoorde runs', color: 'rgba(44, 160, 44, 0.55)', width: 1, dash: [] as number[] },
  { text: 'Controle', color: CTRL_COLOR, width: 3.5, dash: [10, 6] },
  { text: 'Hoge resolutie', color: HR_COLOR, width: 4, dash: [] as number[] },
  { text: 'Middelste (P50)', color: P50_COLOR, width: 3, dash: [8, 6] },
];

const toPoints = (vals: (number | null)[]) => vals.map((v, i) => ({ x: hours[i], y: v }));

const bandsPlugin = {
  id: 'dayBands',
  beforeDraw(chart: any) {
    const { ctx, chartArea, scales } = chart;
    const xs = scales.x;
    ctx.save();
    ctx.fillStyle = '#ececec';
    shadedStarts.forEach((h) => {
      const x0 = xs.getPixelForValue(h);
      const x1 = xs.getPixelForValue(h + 24);
      ctx.fillRect(x0, chartArea.top, x1 - x0, chartArea.bottom - chartArea.top);
    });
    ctx.restore();
  },
};

const legendPlugin = {
  id: 'lineLegend',
  afterDraw(chart: any) {
    const { ctx, chartArea } = chart;
    const LINE = 26;
    const GAP_TEXT = 14;
    const GAP_ITEM = 32;
    ctx.save();
    ctx.font = `17.7px ${FONT}`;
    const widths = legendItems.map((it) => LINE + GAP_TEXT + ctx.measureText(it.text).width);
    const total = widths.reduce((a, b) => a + b, 0) + GAP_ITEM * (legendItems.length - 1);
    let x = chart.width / 2 - total / 2 + 1;
    const y = chartArea.bottom + 79;
    legendItems.forEach((it, i) => {
      ctx.beginPath();
      ctx.strokeStyle = it.color;
      ctx.lineWidth = it.width;
      ctx.setLineDash(it.dash);
      ctx.moveTo(x, y);
      ctx.lineTo(x + LINE, y);
      ctx.stroke();
      ctx.setLineDash([]);
      ctx.fillStyle = '#111111';
      ctx.textBaseline = 'middle';
      ctx.textAlign = 'left';
      ctx.fillText(it.text, x + LINE + GAP_TEXT, y);
      x += widths[i] + GAP_ITEM;
    });
    ctx.restore();
  },
};

export default function App() {
  const canvasRef = useRef<HTMLCanvasElement | null>(null);

  useEffect(() => {
    if (!canvasRef.current) return;
    const datasets: any[] = [
      { label: 'Hoge resolutie', data: toPoints(hoogResolutie), borderColor: HR_COLOR, borderWidth: 4, pointRadius: 0, fill: false, order: 0 },
      { label: 'Controle', data: toPoints(controle), borderColor: CTRL_COLOR, borderWidth: 3.5, borderDash: [12, 5], pointRadius: 0, fill: false, order: 1 },
      { label: 'Middelste (P50)', data: toPoints(middelste), borderColor: P50_COLOR, borderWidth: 3, borderDash: [10, 5], pointRadius: 0, fill: false, order: 2 },
      ...verstoordeRuns.map((m) => ({ label: 'Verstoorde runs', data: toPoints(m), borderColor: ENS_COLOR, borderWidth: 1, pointRadius: 0, fill: false, order: 10 })),
    ];

    const chart = new Chart(canvasRef.current, {
      type: 'line',
      data: { datasets },
      plugins: [bandsPlugin, legendPlugin],
      options: {
        animation: false,
        responsive: false,
        devicePixelRatio: 1,
        layout: { padding: { left: 0, right: 0, top: 0, bottom: 86 } },
        plugins: {
          title: {
            display: true,
            text: 'Dauwpunttemperatuur (°C)',
            color: '#333333',
            font: { family: FONT, size: 29, weight: 'normal' },
            padding: { top: 24.6, bottom: 13.1 },
          },
          subtitle: {
            display: true,
            text: 'Maastricht/Beek, vrijdag 24 juli 2026 (Versie vr 00 uur)',
            color: '#666666',
            font: { family: FONT, size: 17.6, weight: 'normal' },
            padding: { top: 0, bottom: 26.4 },
          },
          legend: { display: false },
          tooltip: { enabled: false },
        },
        scales: {
          x: {
            type: 'linear',
            min: -6,
            max: 360,
            afterBuildTicks: (s: any) => {
              s.ticks = dayDates.map((_, k) => ({ value: 24 * (k + 1) }));
            },
            afterFit: (s: any) => {
              s.height = 52;
            },
            ticks: {
              autoSkip: false,
              maxRotation: 0,
              color: '#555555',
              padding: 5,
              font: { family: FONT, size: 16, lineHeight: 1.3 },
              callback: (_v: any, i: number) => [dayNames[i], dayDates[i]],
            },
            grid: { drawOnChartArea: false, drawTicks: true, tickLength: 6, color: '#666666', lineWidth: 2 },
            border: { display: false },
          },
          y: {
            position: 'left',
            min: 0,
            max: 25,
            afterFit: (s: any) => {
              s.width = 73;
            },
            ticks: { stepSize: 5, color: '#555555', padding: 7, font: { family: FONT, size: 16 } },
            grid: { color: '#dddddd', lineWidth: 1, drawTicks: false },
            border: { display: false },
          },
          y2: {
            position: 'right',
            min: 0,
            max: 25,
            afterFit: (s: any) => {
              s.width = 75;
            },
            ticks: { stepSize: 5, color: '#555555', padding: 8, font: { family: FONT, size: 16 } },
            grid: { drawOnChartArea: false, drawTicks: false },
            border: { display: true, color: '#e2e2e2', width: 1 },
          },
        },
      } as any,
    });
    return () => chart.destroy();
  }, []);

  const footStyle: React.CSSProperties = {
    position: 'absolute',
    top: 572,
    fontFamily: FONT,
    fontSize: 13.5,
    color: '#8a8a8a',
    whiteSpace: 'nowrap',
    lineHeight: '16px',
  };

  return (
    <div style={{ position: 'absolute', left: 0, top: 0, width: 1200, height: 600, background: '#ffffff' }}>
      <canvas ref={canvasRef} width={1200} height={600} style={{ display: 'block', width: 1200, height: 600 }} />
      <div style={{ ...footStyle, left: 18 }}>Gegenereerd door MeteoVPS (meteo-service.nl)</div>
      <div style={{ ...footStyle, right: 18 }}>Bron: ECMWF AIFS/KNMI Ens</div>
    </div>
  );
}
